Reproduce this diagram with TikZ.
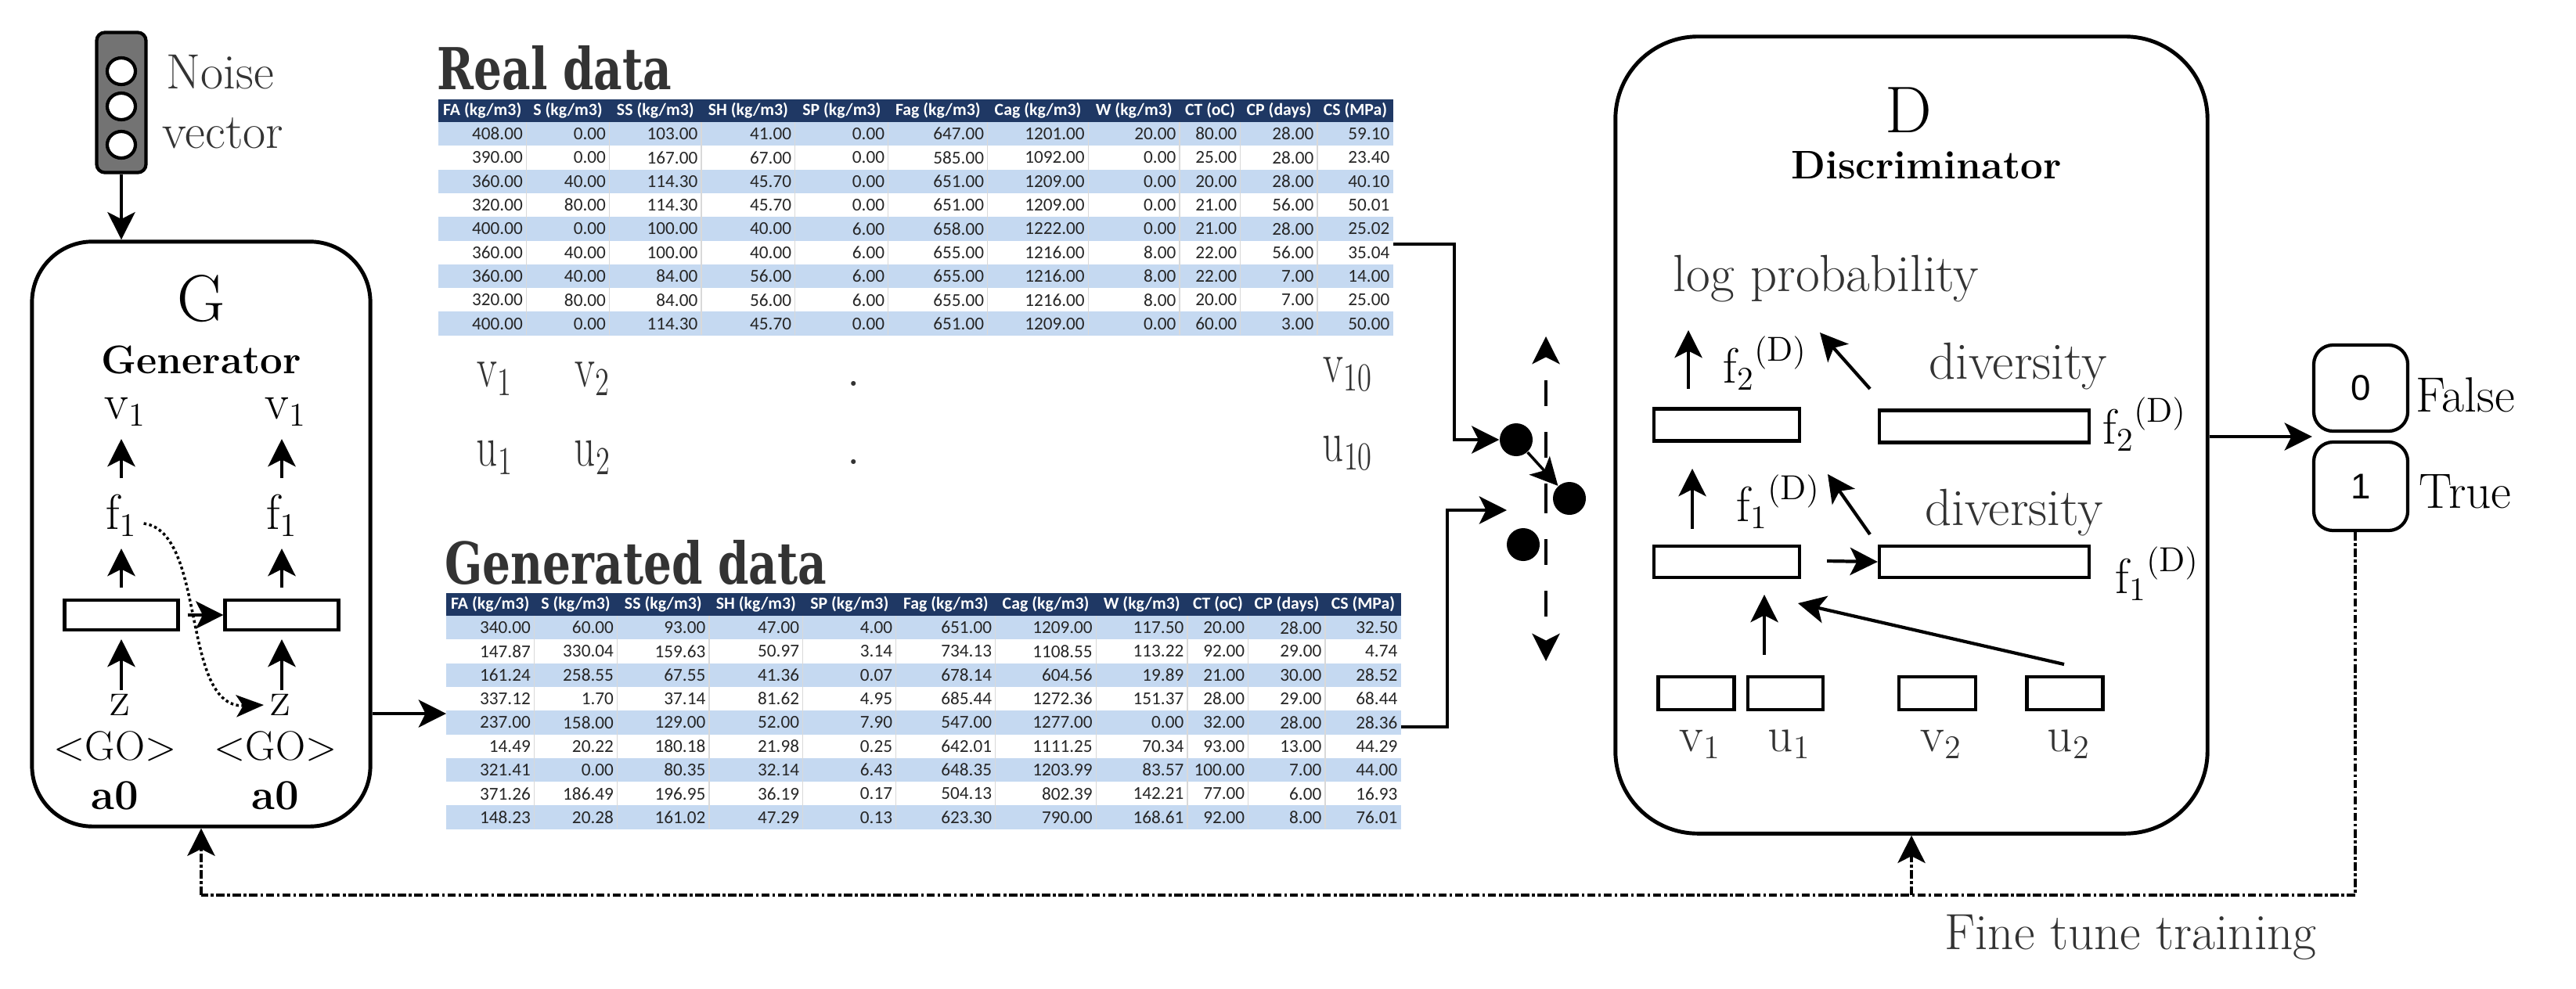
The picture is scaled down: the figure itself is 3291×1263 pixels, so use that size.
\documentclass[tikz,border=0pt]{standalone}
\usepackage{fontspec}
\usetikzlibrary{arrows.meta,shapes.geometric}
\newfontfamily\slab{DejaVu Serif Condensed}
\newfontfamily\calib{Carlito}
\newfontfamily\lsans{Liberation Sans}
\definecolor{hdr}{HTML}{1F3864}
\definecolor{rowA}{HTML}{C5D9F1}
\definecolor{txg}{HTML}{333333}
\tikzset{
 arr/.style={line width=1.2pt,-{Stealth[length=10pt,width=10pt,inset=2.5pt]}},
 lbl/.style={inner sep=0pt,font=\fontsize{18}{20}\selectfont},
 glbl/.style={lbl,text=txg},
 cell/.style={inner sep=0pt,font=\calib\fontsize{6.6}{7}\selectfont,text=black!85},
 hcell/.style={inner sep=0pt,font=\calib\bfseries\fontsize{6.2}{7}\selectfont,text=white},
 bar/.style={draw,line width=1.2pt,inner sep=0pt},
 title/.style={inner sep=0pt,anchor=north west,font=\slab\bfseries\fontsize{21}{24}\selectfont,text=txg},
 vu/.style={inner sep=0pt,text=txg,font=\fontsize{21}{24}\selectfont},
 dot/.style={circle,fill=black,inner sep=0pt,minimum size=0.42cm},
 ft/.style={line width=1.2pt,dash pattern=on 3pt off 1pt on 1pt off 1pt},
}
\def\colr{112.5,218.6,336,455.8,574.8,701.8,830.4,947,1024.9,1123,1220}
\def\coll{0,112.5,218.6,336,455.8,574.8,701.8,830.4,947,1024.9,1123}
\newcommand\mktable[3]{%
 \fill[hdr] (0,0) rectangle (1220,29);
 \foreach \h [count=\c] in {FA (kg/m3),S (kg/m3),SS (kg/m3),SH (kg/m3),SP (kg/m3),Fag (kg/m3),Cag (kg/m3),W (kg/m3),CT (oC),CP (days),CS (MPa)}{
   \pgfmathsetmacro\xr{{\colr}[\c-1]}
   \pgfmathsetmacro\xl{{\coll}[\c-1]}
   \node[hcell] (#3h\c) at ({(\xl+\xr)/2},14.5) {\h};}
 \foreach \r/\row in {#2}{
   \pgfmathsetmacro\ya{29+(\r-1)*30.3}
   \pgfmathsetmacro\yb{29+\r*30.3}
   \ifodd\r \fill[rowA] (0,\ya) rectangle (1220,\yb);\fi
   \foreach \v [count=\c] in \row {
     \pgfmathsetmacro\xr{{\colr}[\c-1]}
     \node[cell,anchor=east] (#3r\r c\c) at (\xr-4,{(\ya+\yb)/2}) {\v};}}
 \foreach \x in {112.5,218.6,336,455.8,574.8,701.8,830.4,947,1024.9,1123}
   \draw[white!85!black,line width=0.3pt] (\x,29) -- (\x,#1);
}
\begin{document}
\begin{tikzpicture}[x=0.01cm,y=-0.01cm]
\useasboundingbox (0,0) rectangle (3291,1263);
% noise vector
\node[draw,line width=1.2pt,fill=gray!90!black,rounded corners=3pt,minimum width=0.63cm,minimum height=1.79cm] (nz) at (155,131) {};
\foreach \y [count=\i] in {91,136,185}
  \node[ellipse,draw,line width=1.2pt,fill=white,minimum width=0.36cm,minimum height=0.34cm,inner sep=0pt] (nc\i) at (155,\y) {};
\node[glbl,anchor=west] (nzt1) at (212,92) {Noise};
\node[glbl,anchor=west] (nzt2) at (207,170) {vector};
% Generator
\node[draw,line width=1.4pt,rounded corners=22pt,minimum width=4.32cm,minimum height=7.47cm] (G) at (257,682.5) {};
\draw[arr] (nz.south) -- (G.north -| nz.south);
\node[lbl,font=\fontsize{24}{26}\selectfont] (Gl) at (257,382) {G};
\node[lbl,font=\bfseries\fontsize{14.5}{16}\selectfont] (Gn) at (257,460) {Generator};
\foreach \x/\n in {155/a,360/b}{
  \node[lbl] (v\n) at (\x+5,526) {$\mathrm{v}_1$};
  \node[lbl] (f\n) at (\x,659) {$\mathrm{f}_1$};
  \node[bar,minimum width=1.45cm,minimum height=0.38cm] (rb\n) at (\x,786) {};
  \node[lbl] (z\n) at (\x-2,901) {z};
  \node[lbl,font=\fontsize{15}{17}\selectfont] (go\n) at (\x-8,954) {<GO>};
  \node[lbl,font=\bfseries\fontsize{15.5}{17}\selectfont] (a\n) at (\x-8,1017) {a0};
  \draw[arr] (\x,611) -- (\x,561);
  \draw[arr] (\x,751) -- (\x,701);
  \draw[arr] (\x,882) -- (\x,817);
}
\draw[arr] (rba.east) ++(10,0) -- (rbb.west);
\draw[line width=1pt,densely dotted,-{Stealth[length=10pt,width=8pt,inset=2.5pt]}] (fa.east) ++(8,10) .. controls (265,680) and (230,905) .. (za.west -| 337,0);
% tables
\node[title] (rt) at (558,58) {\scalebox{0.85}[1]{Real data}};
\begin{scope}[shift={(560,127)}]
\mktable{301}{1/{408.00,0.00,103.00,41.00,0.00,647.00,1201.00,20.00,80.00,28.00,59.10},
2/{390.00,0.00,167.00,67.00,0.00,585.00,1092.00,0.00,25.00,28.00,23.40},
3/{360.00,40.00,114.30,45.70,0.00,651.00,1209.00,0.00,20.00,28.00,40.10},
4/{320.00,80.00,114.30,45.70,0.00,651.00,1209.00,0.00,21.00,56.00,50.01},
5/{400.00,0.00,100.00,40.00,6.00,658.00,1222.00,0.00,21.00,28.00,25.02},
6/{360.00,40.00,100.00,40.00,6.00,655.00,1216.00,8.00,22.00,56.00,35.04},
7/{360.00,40.00,84.00,56.00,6.00,655.00,1216.00,8.00,22.00,7.00,14.00},
8/{320.00,80.00,84.00,56.00,6.00,655.00,1216.00,8.00,20.00,7.00,25.00},
9/{400.00,0.00,114.30,45.70,0.00,651.00,1209.00,0.00,60.00,3.00,50.00}}{R}
\end{scope}
\node[title] (gt) at (568,690) {\scalebox{0.85}[1]{Generated data}};
\begin{scope}[shift={(570,758)}]
\mktable{301}{1/{340.00,60.00,93.00,47.00,4.00,651.00,1209.00,117.50,20.00,28.00,32.50},
2/{147.87,330.04,159.63,50.97,3.14,734.13,1108.55,113.22,92.00,29.00,4.74},
3/{161.24,258.55,67.55,41.36,0.07,678.14,604.56,19.89,21.00,30.00,28.52},
4/{337.12,1.70,37.14,81.62,4.95,685.44,1272.36,151.37,28.00,29.00,68.44},
5/{237.00,158.00,129.00,52.00,7.90,547.00,1277.00,0.00,32.00,28.00,28.36},
6/{14.49,20.22,180.18,21.98,0.25,642.01,1111.25,70.34,93.00,13.00,44.29},
7/{321.41,0.00,80.35,32.14,6.43,648.35,1203.99,83.57,100.00,7.00,44.00},
8/{371.26,186.49,196.95,36.19,0.17,504.13,802.39,142.21,77.00,6.00,16.93},
9/{148.23,20.28,161.02,47.29,0.13,623.30,790.00,168.61,92.00,8.00,76.01}}{S}
\end{scope}
\coordinate (gin) at (570,912);
\draw[arr] (G.east |- gin) -- (gin);
% v / u labels
\node[vu] (tv1) at (632,484) {\scalebox{0.72}[1]{$\mathrm{v}_1$}};
\node[vu] (tv2) at (757,484) {\scalebox{0.72}[1]{$\mathrm{v}_2$}};
\node[vu] (tvd) at (1091,490) {.};
\node[vu] (tv10) at (1722,478) {\scalebox{0.72}[1]{$\mathrm{v}_{10}$}};
\node[vu] (tu1) at (632,585) {\scalebox{0.72}[1]{$\mathrm{u}_1$}};
\node[vu] (tu2) at (757,585) {\scalebox{0.72}[1]{$\mathrm{u}_2$}};
\node[vu] (tud) at (1091,590) {.};
\node[vu] (tu10) at (1722,579) {\scalebox{0.72}[1]{$\mathrm{u}_{10}$}};
% mixing dots
\node[dot] (d1) at (1937,562) {};
\node[dot] (d2) at (2005,637) {};
\node[dot] (d3) at (1946,696) {};
\coordinate (rout) at (1780,312);
\coordinate (sout) at (1790,929);
\draw[line width=1.2pt,-{Stealth[length=10pt,width=10pt,inset=2.5pt]}] (rout) -| (1858,562) -- (d1.west);
\draw[line width=1.2pt,-{Stealth[length=10pt,width=10pt,inset=2.5pt]}] (sout) -| (1849,652) -- (1925,652);
\draw[arr,line width=1pt] (d1) -- (d2);
\coordinate (mid) at (1975,637);
\coordinate (mtop) at (1975,430);
\coordinate (mbot) at (1975,845);
\draw[arr,dash pattern=on 9.4pt off 9.4pt,dash phase=4pt] (mid) -- (mtop);
\draw[arr,dash pattern=on 9.4pt off 9.4pt,dash phase=4pt] (mid) -- (mbot);
% Discriminator
\node[draw,line width=1.4pt,rounded corners=30pt,minimum width=7.56cm,minimum height=10.18cm] (D) at (2442,556) {};
\node[lbl,font=\fontsize{24}{26}\selectfont] (Dl) at (2438,141) {D};
\node[lbl,font=\bfseries\fontsize{14.5}{16}\selectfont] (Dn) at (2461,211) {Discriminator};
\node[glbl,font=\fontsize{19}{21}\selectfont] (lp) at (2333,356) {log probability};
\node[bar,minimum width=1.86cm,minimum height=0.41cm] (b21) at (2206,543) {};
\node[bar,minimum width=2.68cm,minimum height=0.41cm] (b22) at (2535,545) {};
\node[bar,minimum width=1.86cm,minimum height=0.40cm] (b11) at (2206,718) {};
\node[bar,minimum width=2.68cm,minimum height=0.40cm] (b12) at (2535,718) {};
\node[lbl] (f2a) at (2255,464) {${\mathrm{f}_2}^{(\mathrm{D})}$};
\node[lbl] (f2b) at (2740,542) {${\mathrm{f}_2}^{(\mathrm{D})}$};
\node[lbl] (f1a) at (2272,641) {${\mathrm{f}_1}^{(\mathrm{D})}$};
\node[lbl] (f1b) at (2756,733) {${\mathrm{f}_1}^{(\mathrm{D})}$};
\node[glbl,font=\fontsize{19}{21}\selectfont] (dv2) at (2578,468) {diversity};
\node[glbl,font=\fontsize{19}{21}\selectfont] (dv1) at (2573,655) {diversity};
\draw[arr] (2157,497) -- (2157,422);
\draw[arr] (2389,497) -- (2325,425);
\draw[arr] (2162,676) -- (2162,599);
\draw[arr] (2389,683) -- (2335,606);
\draw[arr] (2334,717) -- (b12.west);
\foreach \x/\w/\n/\t in {2167/0.97/bv1/{\mathrm{v}_1},2281/0.96/bu1/{\mathrm{u}_1},2475/0.98/bv2/{\mathrm{v}_2},2638/0.97/bu2/{\mathrm{u}_2}}{
  \node[bar,minimum width=\w cm,minimum height=0.42cm] (\n) at (\x,886) {};
  \node[glbl] (\n t) at (\x+5,951) {$\t$};}
\draw[arr] (2254,837) -- (2254,760);
\draw[arr] (2637,849) -- (2297,771);
% output
\node[draw,line width=1.2pt,rounded corners=7pt,minimum width=1.2cm,minimum height=1.10cm] (o0) at (3016,496) {};
\node[inner sep=0pt,font=\lsans\fontsize{13}{14}\selectfont] (o0t) at (3016,496) {0};
\node[draw,line width=1.2pt,rounded corners=7pt,minimum width=1.2cm,minimum height=1.13cm] (o1) at (3016,621.5) {};
\node[inner sep=0pt,font=\lsans\fontsize{13}{14}\selectfont] (o1t) at (3016,621.5) {1};
\node[lbl,anchor=west] (fl) at (3086,505) {False};
\node[lbl,anchor=west] (tr) at (3090,628) {True};
\draw[arr] (D.east |- 0,558) -- (o0.south west |- 0,558);
% fine tune
\coordinate (ft1) at (3009,1144);
\coordinate (ft2) at (257,1144);
\coordinate (ftd) at (2442,1144);
\draw[ft] (o1.south -| ft1) -- (ft1) -- (ft2);
\draw[ft,-{Stealth[length=10pt,width=10pt,inset=2.5pt]}] (ft2) -- (G.south);
\draw[ft,-{Stealth[length=10pt,width=10pt,inset=2.5pt]}] (ftd) -- (D.south);
\node[glbl,font=\fontsize{18.5}{20}\selectfont] (ftt) at (2722,1198) {Fine tune training};
\end{tikzpicture}
\end{document}
